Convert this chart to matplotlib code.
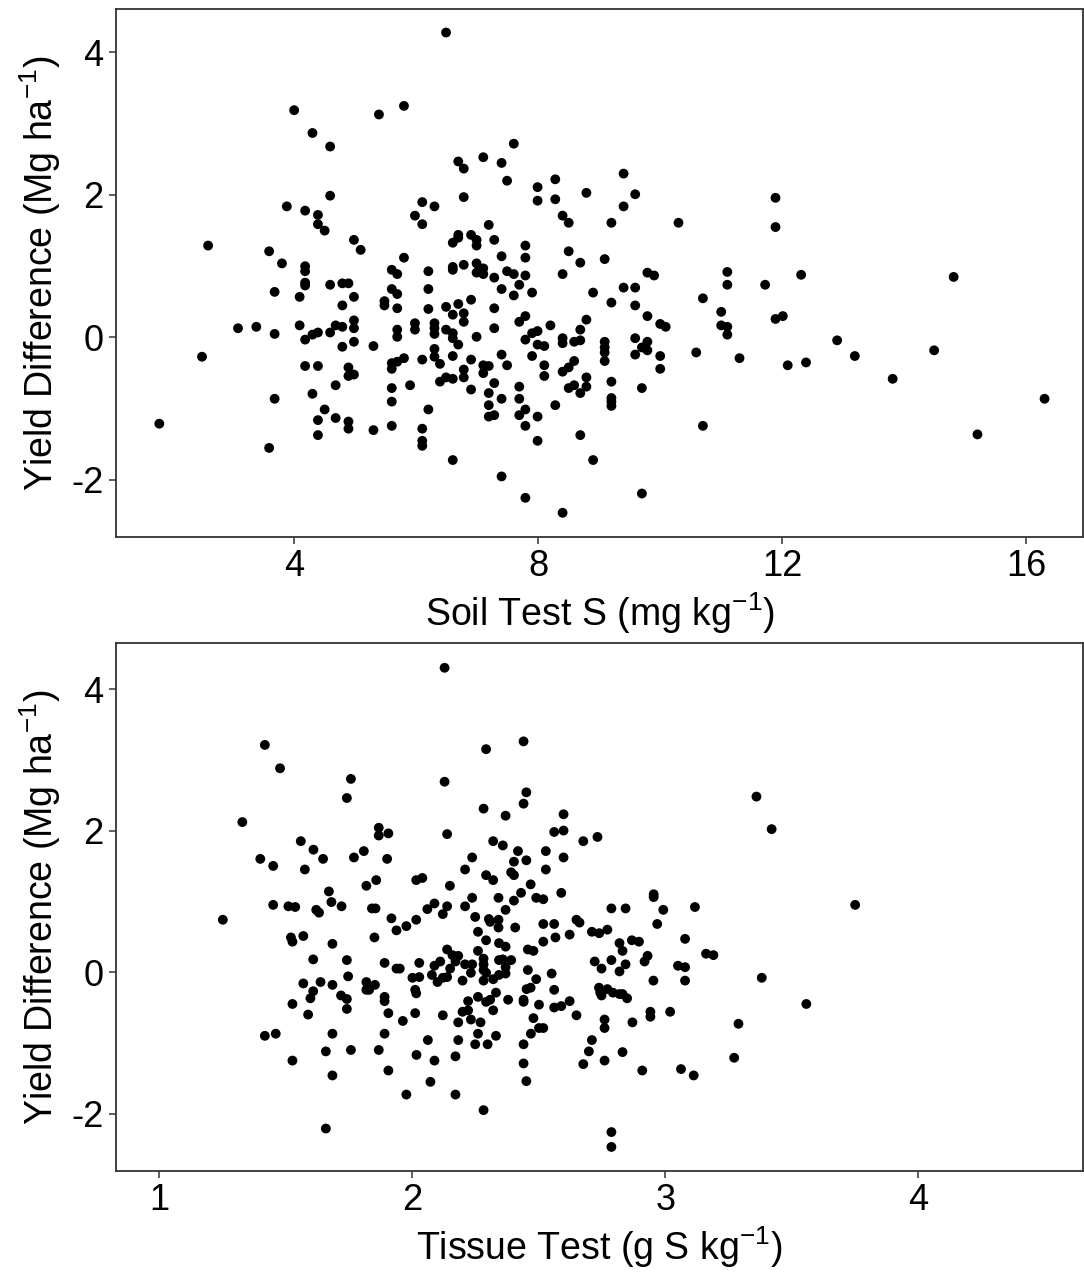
import matplotlib
matplotlib.use("Agg")
import matplotlib.pyplot as plt

# ---------------- data: top panel (soil test S) ----------------
soil_x = [
    4.00, 5.39, 5.80, 4.30, 4.59, 4.59, 3.88, 4.18, 4.39, 4.39, 4.50, 4.98, 5.09, 2.59, 3.59, 3.80, 4.18, 4.18, 5.80, 5.60, 5.69,
    6.49, 7.60, 6.69, 7.10, 7.40, 6.78, 7.49, 8.28, 9.40, 7.99, 8.79, 9.59, 6.78, 7.99, 8.28, 9.40, 6.10, 6.30, 5.98, 6.10,
    8.40, 8.50, 9.20, 10.30, 7.19, 6.69, 6.69, 6.90, 6.99, 7.28, 6.60, 6.99, 7.79, 8.50, 7.40, 7.79, 8.69, 9.09, 6.78, 6.99,
    6.60, 6.60, 7.10, 6.20, 6.99, 7.10, 7.49, 7.60, 7.79, 7.28, 8.40, 9.79, 9.90,
    11.89, 11.89, 11.10, 12.31, 14.81,
    4.18, 4.18, 4.59, 4.79, 4.89, 3.68, 4.09, 4.98, 5.60, 5.69, 4.79, 5.48, 5.48, 5.69, 3.08, 3.38, 3.68, 4.09, 4.18, 4.30,
    4.39, 4.59, 4.68, 4.79, 4.98, 4.98, 4.98, 4.79, 5.30, 5.69, 5.69, 2.49, 4.18, 4.39, 4.89, 4.89, 4.98, 5.60, 5.69, 5.80,
    5.60, 4.68, 5.60, 3.68, 4.30, 4.50, 5.60, 4.39, 4.68, 4.89, 4.89, 5.30, 5.60, 1.79, 4.39, 3.59,
    6.20, 7.40, 7.69, 7.60, 7.90, 8.90, 9.40, 9.59, 9.20, 9.59, 6.20, 6.49, 6.69, 6.90, 7.28, 6.60, 6.78, 6.78, 7.79, 7.69,
    9.79, 8.79, 5.98, 5.98, 6.30, 6.30, 6.30, 6.49, 6.60, 6.60, 6.99, 7.28, 8.20, 7.90, 7.99, 7.79, 8.69, 10.00, 10.09, 6.69,
    7.99, 8.10, 8.40, 8.40, 8.59, 8.69, 9.09, 9.09, 9.09, 9.59, 9.79, 9.70, 9.79, 6.30, 6.30, 6.10, 6.60, 6.39, 6.90, 7.40,
    7.90, 9.09, 9.59, 10.00, 10.59, 7.10, 7.19, 7.49, 8.10, 8.59, 6.78, 6.78, 7.10, 8.40, 8.50, 10.00, 8.10, 6.39, 6.49, 6.60,
    5.90, 7.28, 8.79, 9.20, 6.90, 7.69, 8.50, 8.59, 8.79, 8.69, 9.70, 7.19, 7.40, 7.69, 9.20, 9.20, 9.20, 7.19, 8.28, 6.20,
    7.79, 7.19, 7.28, 7.69, 7.99, 7.79, 6.10, 6.10, 6.10, 7.99, 8.69, 6.60, 8.90, 7.40, 7.79, 9.70, 8.40,
    11.10, 11.72, 10.70, 11.00, 11.00, 11.10, 11.10, 11.89, 12.01, 12.90, 11.30, 12.09, 12.39, 13.19, 14.49, 13.81, 16.30,
    15.20, 10.70,
]
soil_y = [
    3.19, 3.13, 3.25, 2.87, 2.68, 1.99, 1.84, 1.78, 1.72, 1.59, 1.50, 1.37, 1.23, 1.29, 1.21, 1.04, 1.00, 0.93, 1.12, 0.95, 0.89,
    4.28, 2.72, 2.47, 2.53, 2.45, 2.37, 2.20, 2.22, 2.30, 2.11, 2.03, 2.01, 1.97, 1.92, 1.94, 1.84, 1.90, 1.84, 1.71, 1.59,
    1.71, 1.61, 1.61, 1.61, 1.58, 1.44, 1.40, 1.44, 1.37, 1.37, 1.33, 1.29, 1.29, 1.21, 1.14, 1.12, 1.05, 1.10, 1.02, 1.04,
    0.99, 0.95, 0.97, 0.93, 0.91, 0.89, 0.93, 0.89, 0.87, 0.84, 0.89, 0.91, 0.87,
    1.96, 1.55, 0.92, 0.88, 0.85,
    0.77, 0.73, 0.74, 0.76, 0.76, 0.64, 0.57, 0.57, 0.68, 0.61, 0.45, 0.51, 0.45, 0.41, 0.13, 0.15, 0.05, 0.17, -0.03, 0.04,
    0.07, 0.07, 0.17, 0.15, 0.24, 0.13, -0.06, -0.13, -0.12, 0.11, 0.01, -0.27, -0.40, -0.40, -0.42, -0.54, -0.52, -0.36,
    -0.34, -0.29, -0.44, -0.67, -0.71, -0.86, -0.79, -1.01, -0.90, -1.16, -1.13, -1.18, -1.28, -1.30, -1.24, -1.21, -1.37,
    -1.55,
    0.68, 0.68, 0.74, 0.59, 0.63, 0.63, 0.70, 0.70, 0.49, 0.45, 0.40, 0.43, 0.47, 0.53, 0.41, 0.32, 0.34, 0.22, 0.30, 0.22,
    0.30, 0.25, 0.20, 0.11, 0.20, 0.13, 0.05, 0.11, 0.06, -0.01, 0.01, 0.13, 0.17, 0.06, 0.09, -0.03, 0.11, 0.19, 0.15, -0.10,
    -0.10, -0.12, -0.01, -0.08, -0.06, -0.04, -0.06, -0.14, -0.21, -0.01, -0.06, -0.14, -0.18, -0.16, -0.27, -0.31, -0.26,
    -0.37, -0.31, -0.24, -0.26, -0.33, -0.24, -0.26, -0.21, -0.39, -0.40, -0.39, -0.39, -0.33, -0.45, -0.56, -0.50, -0.48,
    -0.42, -0.44, -0.54, -0.62, -0.56, -0.58, -0.67, -0.64, -0.56, -0.62, -0.73, -0.69, -0.71, -0.67, -0.69, -0.78, -0.71,
    -0.78, -0.86, -0.86, -0.85, -0.90, -0.96, -0.95, -0.95, -1.01, -1.01, -1.11, -1.09, -1.09, -1.11, -1.24, -1.28, -1.45,
    -1.52, -1.45, -1.37, -1.72, -1.72, -1.95, -2.25, -2.19, -2.46,
    0.74, 0.74, 0.55, 0.36, 0.17, 0.15, 0.04, 0.26, 0.30, -0.04, -0.29, -0.39, -0.35, -0.26, -0.18, -0.58, -0.86, -1.36,
    -1.24,
]

# ---------------- data: bottom panel (tissue test) ----------------
tissue_x = [
    1.418, 1.478, 1.758, 1.742, 1.329, 1.868, 1.868, 1.906, 1.560, 1.610, 1.809, 1.400, 1.648, 1.770, 1.901, 1.451, 1.576,
    1.858, 1.819, 1.671, 1.681, 1.451, 1.511, 1.538, 1.621, 1.632, 1.721, 1.841, 1.855,
    1.252, 1.918, 1.938, 1.977, 1.521, 1.527, 1.570, 1.685, 1.851, 1.609, 1.742, 1.891, 1.938, 1.951, 1.570, 1.638, 1.685,
    1.747, 1.819, 1.853, 1.819, 1.830, 1.609, 1.598, 1.719, 1.742, 1.891, 1.891, 1.527, 1.742, 1.589, 1.906, 1.963, 1.418,
    1.461, 1.685, 1.891, 1.659, 1.758, 1.868, 1.527, 1.906, 1.685, 1.977, 1.659,
    2.128, 2.440, 2.292, 2.128, 2.451, 2.440, 2.282, 2.369, 2.598, 2.561, 2.598, 2.138, 2.676, 2.732, 2.320, 2.358, 2.418,
    2.528, 2.237, 2.402, 2.451, 2.598, 2.209, 2.528, 2.292, 2.320, 2.391, 2.402, 2.016, 2.040, 2.149, 2.468, 2.430, 2.589,
    2.954, 2.954, 2.237, 2.341, 2.402, 2.490, 2.518, 2.088, 2.138, 2.209, 2.060, 2.369, 2.787, 2.843, 2.992, 3.117,
    3.360, 3.420, 3.750, 3.161, 3.190, 3.381, 3.557, 3.289, 3.272, 3.112,
    2.016, 2.121, 2.249, 2.303, 2.308, 2.341, 2.341, 2.407, 2.260, 2.518, 2.561, 2.649, 2.661, 2.622, 2.566, 2.518, 2.710,
    2.739, 2.771, 2.968, 3.078, 2.292, 2.343, 2.369, 2.138, 2.260, 2.457, 2.479, 2.819, 2.868, 2.896, 2.831, 2.930, 2.918,
    2.159, 2.182, 2.171, 2.282, 2.282, 2.343, 2.358, 2.391, 2.721, 2.787, 2.843, 2.028, 2.088, 2.111, 2.209, 2.237, 2.150,
    2.369, 2.369, 2.282, 2.292, 2.232, 2.748, 2.819, 3.050, 3.078, 2.457, 2.551, 2.001, 2.028, 2.078, 2.100, 2.121, 2.138,
    2.199, 2.282, 2.320, 2.343, 2.490, 2.953, 3.078, 2.012, 2.016, 2.452, 2.468, 2.561, 2.738, 2.743, 2.748, 2.771, 2.793,
    2.819, 2.831, 2.849, 2.331, 2.260, 2.292, 2.308, 2.221, 2.379, 2.440, 2.440, 2.622, 2.501, 2.561, 2.589, 2.199, 2.221,
    2.320, 2.012, 2.121, 2.182, 2.232, 2.270, 2.479, 2.649, 2.760, 2.760, 2.870, 2.941, 2.941, 3.019, 2.501, 2.518, 2.260,
    2.469, 2.062, 2.182, 2.331, 2.249, 2.298, 2.440, 2.710, 2.698, 2.831, 2.017, 2.171, 2.088, 2.440, 2.676, 2.760, 2.909,
    3.062, 2.451, 2.072, 2.171, 2.282, 2.787, 2.787,
]
tissue_y = [
    3.21, 2.88, 2.73, 2.46, 2.12, 2.04, 1.93, 1.96, 1.85, 1.73, 1.71, 1.60, 1.60, 1.62, 1.60, 1.50, 1.45, 1.30, 1.22, 1.14,
    0.99, 0.95, 0.93, 0.92, 0.88, 0.84, 0.93, 0.90, 0.90,
    0.74, 0.76, 0.59, 0.65, 0.49, 0.43, 0.51, 0.40, 0.49, 0.18, 0.17, 0.13, 0.05, 0.05, -0.16, -0.14, -0.18, -0.06, -0.14,
    -0.18, -0.25, -0.25, -0.27, -0.37, -0.33, -0.38, -0.35, -0.41, -0.45, -0.52, -0.60, -0.58, -0.69, -0.90, -0.87, -0.87,
    -0.87, -1.12, -1.10, -1.10, -1.25, -1.39, -1.46, -1.73, -2.21,
    4.30, 3.26, 3.15, 2.69, 2.54, 2.38, 2.31, 2.21, 2.23, 1.98, 2.00, 1.95, 1.85, 1.91, 1.85, 1.79, 1.71, 1.71, 1.62, 1.56,
    1.58, 1.62, 1.45, 1.45, 1.37, 1.30, 1.41, 1.37, 1.30, 1.33, 1.22, 1.24, 1.12, 1.12, 1.10, 1.06, 1.05, 1.05, 1.01, 1.05,
    1.03, 0.97, 0.93, 0.93, 0.89, 0.88, 0.90, 0.90, 0.88, 0.92,
    2.48, 2.02, 0.95, 0.26, 0.24, -0.08, -0.45, -0.73, -1.21, -1.46,
    0.74, 0.82, 0.78, 0.75, 0.71, 0.74, 0.63, 0.63, 0.57, 0.68, 0.68, 0.74, 0.70, 0.53, 0.49, 0.43, 0.57, 0.55, 0.60, 0.68,
    0.47, 0.45, 0.41, 0.36, 0.32, 0.30, 0.32, 0.30, 0.41, 0.45, 0.43, 0.30, 0.23, 0.15, 0.24, 0.23, 0.15, 0.19, 0.11, 0.17,
    0.18, 0.17, 0.15, 0.17, 0.11, 0.13, 0.09, 0.15, 0.11, 0.11, 0.05, 0.07, -0.02, 0.03, -0.01, -0.01, 0.05, 0.01, 0.09,
    0.07, 0.03, -0.02, -0.08, -0.07, -0.04, -0.14, -0.08, -0.07, -0.12, -0.12, -0.10, -0.04, -0.10, -0.12, -0.12, -0.25,
    -0.30, -0.24, -0.22, -0.25, -0.22, -0.29, -0.33, -0.24, -0.29, -0.31, -0.31, -0.37, -0.29, -0.35, -0.42, -0.39, -0.41,
    -0.39, -0.39, -0.42, -0.41, -0.46, -0.50, -0.48, -0.56, -0.54, -0.54, -0.58, -0.61, -0.71, -0.67, -0.71, -0.65, -0.61,
    -0.67, -0.79, -0.71, -0.56, -0.63, -0.56, -0.79, -0.79, -0.87, -0.87, -0.96, -0.96, -0.90, -1.02, -1.02, -1.02, -0.96,
    -1.12, -1.13, -1.17, -1.19, -1.25, -1.29, -1.30, -1.25, -1.39, -1.37, -1.54, -1.55, -1.73, -1.95, -2.26, -2.47,
]

soil_xticks = [4, 8, 12, 16]
tissue_xticks = [1, 2, 3, 4]
yticks = [-2, 0, 2, 4]
ylabel_text = "Yield Difference (Mg ha$^{\\mathregular{-1}}$)"
soil_xlabel = "Soil Test S (mg kg$^{\\mathregular{-1}}$)"
tissue_xlabel = "Tissue Test (g S kg$^{\\mathregular{-1}}$)"

plt.rcParams["font.family"] = ["Liberation Sans", "DejaVu Sans"]
plt.rcParams["mathtext.fontset"] = "custom"
plt.rcParams["mathtext.rm"] = "Liberation Sans"
plt.rcParams["mathtext.it"] = "Liberation Sans"
plt.rcParams["mathtext.bf"] = "Liberation Sans"
plt.rcParams["axes.unicode_minus"] = False

W, H = 1084, 1273
fig = plt.figure(figsize=(W / 100, H / 100), dpi=100)


def make_axes(rect, xs, ys, xlim, ylim, xticks, xlabel):
    ax = fig.add_axes(rect)
    ax.scatter(xs, ys, s=50, c="black", edgecolors="none", zorder=3)
    ax.set_xlim(*xlim)
    ax.set_ylim(*ylim)
    ax.set_xticks(xticks)
    ax.set_yticks(yticks)
    ax.tick_params(axis="both", direction="out", length=5, width=1.1,
                   color="#333333", labelsize=26, labelcolor="black", pad=4)
    for sp in ax.spines.values():
        sp.set_color("#333333")
        sp.set_linewidth(1.3)
    ax.set_xlabel(xlabel, fontsize=27, labelpad=4)
    ax.set_ylabel(ylabel_text, fontsize=27, labelpad=6)
    return ax


# pixel-based rectangles converted to figure fractions
left = 116 / W
width = (1083 - 116) / W
make_axes([left, 1 - 537 / H, width, (537 - 9) / H],
          soil_x, soil_y, (1.08, 16.93), (-2.80, 4.61), soil_xticks, soil_xlabel)
make_axes([left, 1 - 1171 / H, width, (1171 - 643) / H],
          tissue_x, tissue_y, (0.83, 4.65), (-2.81, 4.65), tissue_xticks, tissue_xlabel)

fig.savefig("out.png", dpi=100, facecolor="white")
